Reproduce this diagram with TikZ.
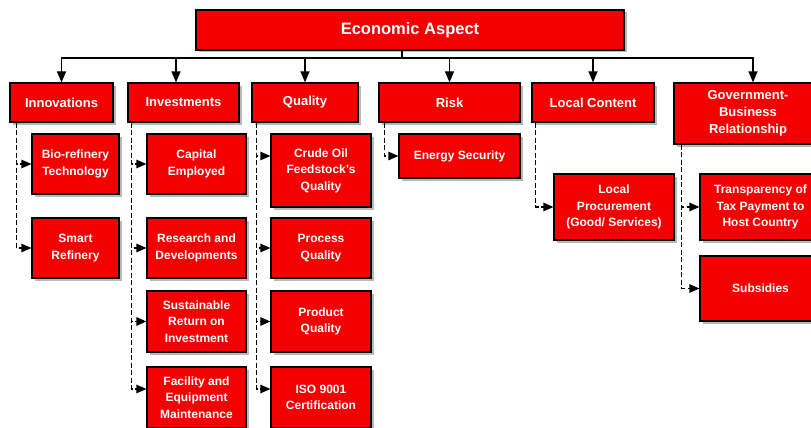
\documentclass[tikz,border=0pt]{standalone}
\usepackage{fontspec}
\setmainfont{Liberation Sans}
\usetikzlibrary{arrows.meta,shadows,calc}
\definecolor{boxred}{RGB}{245,0,0}
\tikzset{
  box/.style={draw=black, line width=1.2pt, fill=boxred, text=white,
    font=\bfseries\fontsize{12}{16.5}\selectfont, align=center, inner sep=1pt,
    drop shadow={shadow xshift=2.5pt, shadow yshift=-2.5pt, fill=black!50, opacity=0.55}},
  headbox/.style={box, font=\bfseries\fontsize{13}{16.7}\selectfont},
  titlebox/.style={box, font=\bfseries\fontsize{16.5}{19}\selectfont},
  conn/.style={draw=black, line width=1.2pt},
  arr/.style={conn, -{Triangle[length=11pt,width=9pt]}},
  darr/.style={conn, dash pattern=on 5pt off 2.5pt, -{Triangle[length=10pt,width=8.5pt]}}
}
\begin{document}
\begin{tikzpicture}[x=1pt,y=-1pt]
\useasboundingbox (0,0) rectangle (811,428);
\clip (0,0) rectangle (811,428);
% top
\node[titlebox, minimum width=428pt, minimum height=40pt] (top) at (410,30) {Economic Aspect};
% level 2
\node[headbox, minimum width=103pt, minimum height=39pt] (innov) at (61.5,102.5) {Innovations};
\node[headbox, minimum width=111pt, minimum height=39pt] (invest) at (183.5,102.5) {Investments};
\node[headbox, minimum width=106pt, minimum height=39pt] (quality) at (305,102.5) {Quality};
\node[headbox, minimum width=141pt, minimum height=39pt] (risk) at (449.5,102.5) {Risk};
\node[headbox, minimum width=122pt, minimum height=39pt] (local) at (593,102.5) {Local Content};
\node[headbox, minimum width=148pt, minimum height=61pt] (gov) at (748,113.5) {Government-\\Business\\Relationship};
% level 3
\node[box, minimum width=87pt, minimum height=60pt] (bio) at (75.5,164) {Bio-refinery\\Technology};
\node[box, minimum width=87pt, minimum height=60pt] (smart) at (75.5,248) {Smart\\Refinery};
\node[box, minimum width=99pt, minimum height=60pt] (capital) at (196.5,164) {Capital\\Employed};
\node[box, minimum width=99pt, minimum height=60pt] (research) at (196.5,248) {Research and\\Developments};
\node[box, minimum width=99pt, minimum height=61pt] (sustain) at (196.5,321.5) {Sustainable\\Return on\\Investment};
\node[box, minimum width=99pt, minimum height=61pt] (facility) at (196.5,397.5) {Facility and\\Equipment\\Maintenance};
\node[box, minimum width=100pt, minimum height=73pt] (crude) at (321,170.5) {Crude Oil\\Feedstock's\\Quality};
\node[box, minimum width=100pt, minimum height=60pt] (process) at (321,248) {Process\\Quality};
\node[box, minimum width=100pt, minimum height=61pt] (product) at (321,321.5) {Product\\Quality};
\node[box, minimum width=100pt, minimum height=61pt] (iso) at (321,397.5) {ISO 9001\\Certification};
\node[box, minimum width=121pt, minimum height=44pt] (energy) at (459.5,156) {Energy Security};
\node[box, minimum width=120pt, minimum height=66pt] (procure) at (614,207) {Local\\Procurement\\(Good/ Services)};
\node[box, minimum width=121pt, minimum height=66pt] (transp) at (760.5,207) {Transparency of\\Tax Payment to\\Host Country};
\node[box, minimum width=121pt, minimum height=65pt] (subsid) at (760.5,288.5) {Subsidies};
% top connectors
\coordinate (hub) at (402,58);
\draw[conn] (top.south -| hub) -- (hub);
\draw[arr] (hub) -| (innov.north);
\draw[arr] (hub) -| ([xshift=-7.5pt]invest.north);
\draw[arr] (hub) -| (quality.north);
\draw[arr] (hub) -| (risk.north);
\draw[arr] (hub) -| (local.north);
\draw[arr] (hub) -| ([xshift=5pt]gov.north);
% dashed connectors
\draw[darr] ([xshift=7pt]innov.south west) |- (bio.west);
\draw[darr] ([xshift=7pt]innov.south west) |- (smart.west);
\draw[darr] ([xshift=4pt]invest.south west) |- (capital.west);
\draw[darr] ([xshift=4pt]invest.south west) |- (research.west);
\draw[darr] ([xshift=4pt]invest.south west) |- (sustain.west);
\draw[darr] ([xshift=4pt]invest.south west) |- ([yshift=8.5pt]facility.west);
\draw[darr] ([xshift=5pt]quality.south west) |- ([yshift=14.5pt]crude.west);
\draw[darr] ([xshift=5pt]quality.south west) |- (process.west);
\draw[darr] ([xshift=5pt]quality.south west) |- (product.west);
\draw[darr] ([xshift=5pt]quality.south west) |- ([yshift=8.5pt]iso.west);
\draw[darr] ([xshift=6pt]risk.south west) |- (energy.west);
\draw[darr] ([xshift=4pt]local.south west) |- (procure.west);
\draw[darr] ([xshift=8pt]gov.south west) |- (transp.west);
\draw[darr] ([xshift=8pt]gov.south west) |- (subsid.west);
\end{tikzpicture}
\end{document}
